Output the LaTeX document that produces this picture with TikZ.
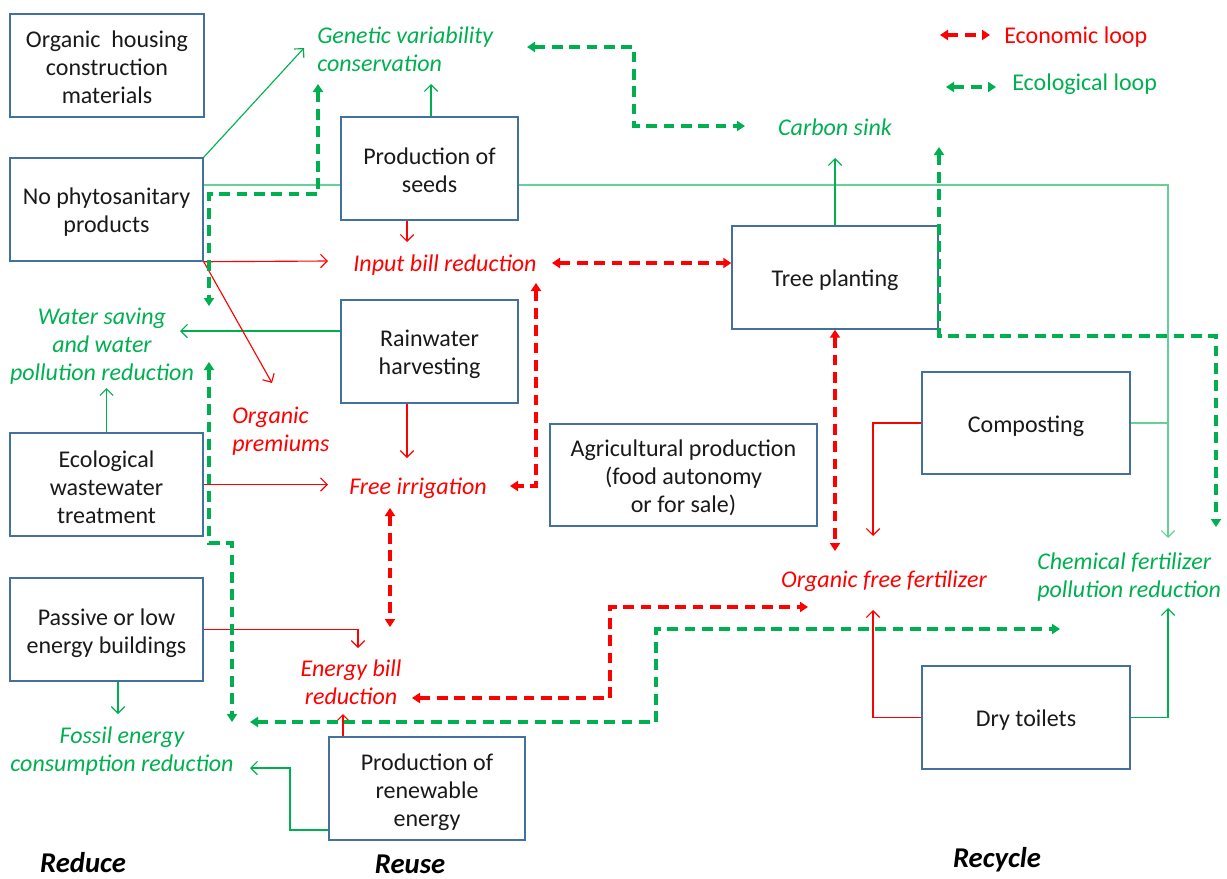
\documentclass[tikz,border=0pt]{standalone}
\usepackage{fontspec}
\setmainfont{Carlito}
\usetikzlibrary{arrows.meta}
\definecolor{gr}{HTML}{00B050}
\definecolor{rd}{HTML}{FF0000}
\definecolor{bx}{HTML}{41719C}
\begin{document}
\begin{tikzpicture}[x=0.75pt,y=-0.75pt,
  box/.style 2 args={draw=bx, line width=1.1pt, minimum width=#1*0.75pt, minimum height=#2*0.75pt, inner sep=0pt},
  btxt/.style={align=center, text=black!90, font=\fontsize{18}{21}\selectfont, inner sep=0pt, yshift=-2.2pt},
  glab/.style={text=gr, font=\fontsize{18}{21}\selectfont\itshape, inner sep=0pt, align=center},
  rlab/.style={text=rd, font=\fontsize{18}{21}\selectfont\itshape, inner sep=0pt, align=center},
  blab/.style={text=black, font=\fontsize{21.5}{24}\selectfont\bfseries\itshape, inner sep=0pt},
  thintip/.style={-{Straight Barb[length=5pt,width=10pt]}},
  garr/.style={draw=gr, line width=0.85pt, thintip},
  rarr/.style={draw=rd, line width=0.85pt, thintip},
  lgline/.style={draw=gr!60, line width=0.85pt},
  loop/.style={line width=3pt, dash pattern=on 8pt off 5pt, {Triangle[length=6pt,width=7.5pt]}-{Triangle[length=6pt,width=7.5pt]}},
  gloop/.style={draw=gr, loop},
  rloop/.style={draw=rd, loop}
]
\useasboundingbox (0,0) rectangle (1227,878);

% boxes
\node[box={194}{103}, label={[btxt,yshift=1.1pt]center:{Organic\ \ housing\\construction\\materials}}] (org) at (107,65.5) {};
\node[box={193}{103}, label={[btxt]center:{No phytosanitary\\products}}] (np) at (106.5,209.5) {};
\node[box={193}{103}, label={[btxt]center:{Ecological\\wastewater\\treatment}}] (eco) at (106.5,484.5) {};
\node[box={193}{103}, label={[btxt,yshift=-0.6pt]center:{Passive or low\\energy buildings}}] (pas) at (106.5,629.5) {};
\node[box={177}{103}, label={[btxt,yshift=0.6pt]center:{Production of\\seeds}}] (seeds) at (429.5,168.5) {};
\node[box={177}{103}, label={[btxt]center:{Rainwater\\harvesting}}] (rain) at (429.5,351.5) {};
\node[box={196}{103}, label={[btxt,yshift=-0.8pt]center:{Production of\\renewable\\energy}}] (ren) at (427,788.5) {};
\node[box={267}{102}, label={[btxt]center:{Agricultural production\\(food autonomy\\or for sale)}}] (agr) at (683.5,475) {};
\node[box={206}{103}, label={[btxt]center:{Tree planting}}] (tree) at (835,277.5) {};
\node[box={208}{102}, label={[btxt]center:{Composting}}] (comp) at (1026,423) {};
\node[box={208}{103}, label={[btxt]center:{Dry toilets}}] (dry) at (1026,717.5) {};

% green labels
\node[glab, anchor=west, align=left] (gen) at (317,49) {Genetic variability\\conservation};
\node[glab] (carbon) at (835,127) {Carbon sink};
\node[glab] (water) at (102,346.5) {Water saving\\and water\\pollution reduction};
\node[glab] (fossil) at (122,751) {Fossil energy\\consumption reduction};
\node[glab, anchor=west, align=left] (chem) at (1037,577) {Chemical fertilizer\\pollution reduction};

% red labels
\node[rlab] (input) at (445,265) {Input bill reduction};
\node[rlab, anchor=west, align=left] (prem) at (232,431) {Organic\\premiums};
\node[rlab] (irr) at (418,488) {Free irrigation};
\node[rlab] (ebill) at (351,682) {Energy bill\\reduction};
\node[rlab] (fert) at (884,581) {Organic free fertilizer};

% legend
\node[anchor=west, inner sep=0pt, text=rd, font=\fontsize{18}{21}\selectfont] (leco) at (1004,37) {Economic loop};
\node[anchor=west, inner sep=0pt, text=gr, font=\fontsize{18}{21}\selectfont] (lecol) at (1012,84) {Ecological loop};
\coordinate (lr1) at (940,35); \coordinate (lr2) at (990,35);
\coordinate (lg1) at (946,87); \coordinate (lg2) at (996,87);
\draw[rloop] (lr1) -- (lr2);
\draw[gloop] (lg1) -- (lg2);

% bottom labels
\node[blab] (reduce) at (83,863) {Reduce};
\node[blab] (reuse) at (410,864) {Reuse};
\node[blab] (recycle) at (997,860) {Recycle};

% light green long line
\draw[lgline] (np.east |- 0,185) -- (seeds.west |- 0,185);
\draw[lgline, thintip] (seeds.east |- 0,185) -- (1168,185) -- (1168,538);
\draw[lgline] (comp.east) -- (1168,423);

% thin green arrows
\draw[garr] (np.north east) -- (304,48);
\draw[garr] (seeds.north -| 431,0) -- (431,84);
\draw[garr] (rain.west |- 0,331) -- (180,331);
\draw[garr] (eco.north) -- (106.5,388);
\draw[garr] (pas.south -| 118,0) -- (118,714);
\draw[garr] (ren.west |- 0,830) -- (290,830) -- (290,768) -- (250,768);
\draw[garr] (tree.north) -- (835,158);
\draw[garr] (dry.east) -- (1168,717.5) -- (1168,608);

% thin red arrows
\draw[rarr] (np.south east) -- (328,261);
\draw[rarr] (np.south east) -- (272,383);
\draw[rarr] (seeds.south -| 407,0) -- (407,242);
\draw[rarr] (rain.south -| 407,0) -- (407,458);
\draw[rarr] (eco.east) -- (328,484.5);
\draw[rarr] (pas.east) -- (358,629.5) -- (358,648);
\draw[rarr] (ren.north -| 343,0) -- (343,714);
\draw[rarr] (comp.west) -- (873,423) -- (873,536);
\draw[rarr] (dry.west) -- (873,717.5) -- (873,610);

% economic loops (red dashed)
\draw[rloop] (552,263) -- (tree.west |- 0,263);
\draw[rloop] (536,283) -- (536,486) -- (510,486);
\draw[rloop] (tree.south) -- (835,551);
\draw[rloop] (390,508) -- (390,627);
\draw[rloop] (412,698) -- (610,698) -- (610,607) -- (808,607);

% ecological loops (green dashed)
\draw[gloop] (527,47) -- (634,47) -- (634,126) -- (745,126);
\draw[gloop] (318,84) -- (318,194) -- (209,194) -- (209,306);
\draw[gloop] (209,362) -- (209,543) -- (232,543) -- (232,722);
\draw[gloop] (250,722) -- (656,722) -- (656,629) -- (1060,629);
\draw[gloop] (939,147) -- (939,336) -- (1216,336) -- (1216,527);
\end{tikzpicture}
\end{document}
